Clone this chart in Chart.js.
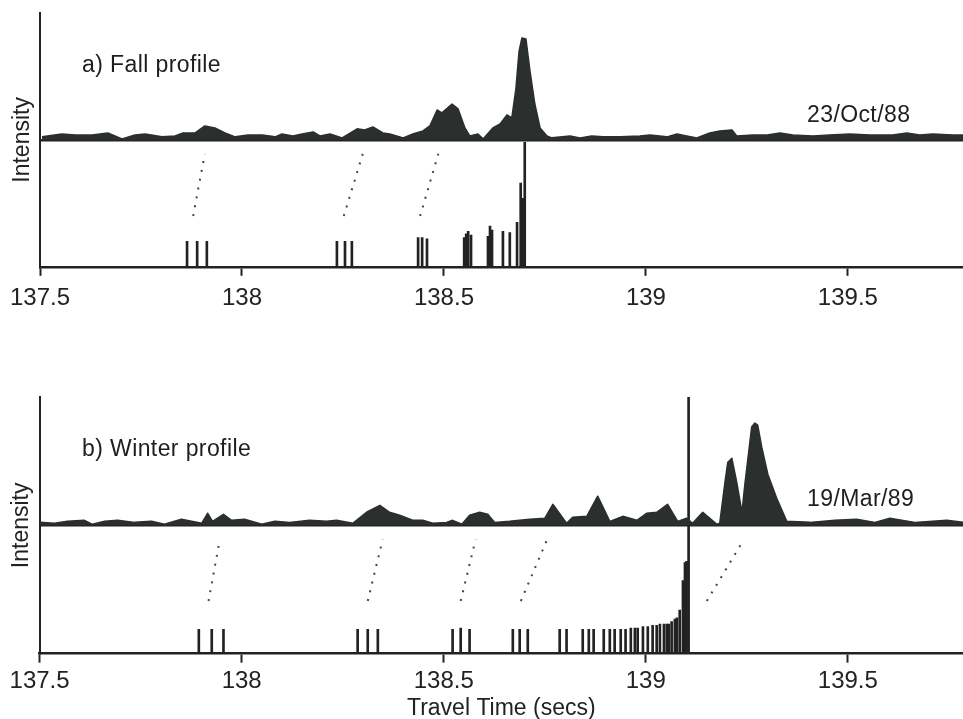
<!DOCTYPE html>
<html>
<head>
<meta charset="utf-8">
<script src="https://cdn.jsdelivr.net/npm/chart.js@4.4.1/dist/chart.umd.min.js"></script>
<style>
  html, body { margin: 0; padding: 0; background: #fff; }
  body { width: 963px; height: 719px; position: relative; overflow: hidden; font-family: "Liberation Sans", Arial, sans-serif; color: #1e1e1e; }
  .panel { position: absolute; left: 0; width: 963px; }
  .note { position: absolute; font-size: 23px; line-height: 23px; letter-spacing: 0.4px; white-space: nowrap; }
</style>
</head>
<body>
<div class="panel" style="top:0; height:325px;"><canvas id="fallChart"></canvas></div>
<div class="panel" style="top:360px; height:364px;"><canvas id="winterChart"></canvas></div>
<div class="note" style="left:82px; top:53px;">a) Fall profile</div>
<div class="note" style="left:807px; top:103px;">23/Oct/88</div>
<div class="note" style="left:82px; top:437px;">b) Winter profile</div>
<div class="note" style="left:807px; top:487px;">19/Mar/89</div>
<script>
// travel time axis
const xMin = 137.5, xMax = 139.785;
const xTicks = [137.5, 138, 138.5, 139, 139.5];

// --- a) Fall profile, 23/Oct/88 ---
const fallProfileTime = [137.505, 137.554, 137.587, 137.629, 137.668, 137.703, 137.735, 137.760, 137.802, 137.834,
  137.854, 137.884, 137.908, 137.933, 137.958, 137.983, 138.015, 138.050, 138.082, 138.099,
  138.126, 138.149, 138.176, 138.193, 138.218, 138.248, 138.285, 138.304, 138.324, 138.349,
  138.366, 138.399, 138.423, 138.448, 138.465, 138.483, 138.495, 138.520, 138.535, 138.552,
  138.564, 138.584, 138.597, 138.621, 138.639, 138.656, 138.668, 138.678, 138.686, 138.693,
  138.703, 138.713, 138.725, 138.738, 138.755, 138.767, 138.812, 138.837, 138.866, 138.894,
  138.936, 138.985, 139.010, 139.052, 139.077, 139.101, 139.126, 139.158, 139.183, 139.213,
  139.225, 139.265, 139.300, 139.332, 139.364, 139.413, 139.455, 139.505, 139.554, 139.611,
  139.646, 139.678, 139.710, 139.760, 139.785];
const fallProfileIntensity = [0.024, 0.047, 0.039, 0.039, 0.055, 0.008, 0.039, 0.047, 0.024, 0.031,
  0.055, 0.055, 0.110, 0.094, 0.055, 0.024, 0.039, 0.039, 0.024, 0.047,
  0.031, 0.047, 0.063, 0.031, 0.047, 0.016, 0.087, 0.079, 0.102, 0.055,
  0.047, 0.016, 0.047, 0.071, 0.110, 0.236, 0.213, 0.283, 0.244, 0.094,
  0.031, 0.047, 0.008, 0.094, 0.126, 0.197, 0.173, 0.400, 0.700, 0.803,
  0.795, 0.543, 0.283, 0.094, 0.031, 0.016, 0.031, 0.016, 0.031, 0.024,
  0.024, 0.031, 0.039, 0.024, 0.047, 0.031, 0.016, 0.055, 0.071, 0.079,
  0.031, 0.039, 0.039, 0.055, 0.039, 0.031, 0.039, 0.047, 0.039, 0.039,
  0.055, 0.039, 0.047, 0.039, 0.039];
const fallRayTime = [137.864, 137.889, 137.913, 138.235, 138.255, 138.272, 138.436, 138.446, 138.458, 138.550,
  138.555, 138.560, 138.567, 138.609, 138.614, 138.619, 138.646, 138.663, 138.681, 138.690, 138.695, 138.700];
const fallRayHeight = [0.20, 0.20, 0.20, 0.20, 0.20, 0.20, 0.23, 0.23, 0.22, 0.23,
  0.26, 0.28, 0.25, 0.24, 0.32, 0.29, 0.28, 0.27, 0.35, 0.66, 0.54, 0.98];
const fallLinkFrom = [137.879, 138.252, 138.441];
const fallLinkTo = [137.908, 138.299, 138.486];
const fallLinkLow = [0.40, 0.40, 0.40];
const fallLinkHigh = [0.89, 0.89, 0.89];

// --- b) Winter profile, 19/Mar/89 ---
const winterProfileTime = [137.500, 137.537, 137.569, 137.611, 137.631, 137.661, 137.693, 137.735, 137.777, 137.809,
  137.851, 137.876, 137.901, 137.916, 137.928, 137.955, 137.975, 138.007, 138.050, 138.082,
  138.119, 138.168, 138.210, 138.235, 138.275, 138.309, 138.342, 138.366, 138.391, 138.423,
  138.448, 138.473, 138.507, 138.522, 138.545, 138.564, 138.589, 138.609, 138.626, 138.663,
  138.713, 138.750, 138.770, 138.804, 138.819, 138.854, 138.881, 138.911, 138.943, 138.978,
  139.002, 139.027, 139.054, 139.079, 139.101, 139.116, 139.141, 139.176, 139.183, 139.196,
  139.203, 139.213, 139.225, 139.238, 139.245, 139.262, 139.270, 139.277, 139.287, 139.302,
  139.324, 139.349, 139.406, 139.468, 139.522, 139.567, 139.604, 139.666, 139.745, 139.785];
const winterProfileIntensity = [0.023, 0.016, 0.031, 0.039, 0.008, 0.031, 0.039, 0.023, 0.031, 0.008,
  0.047, 0.031, 0.016, 0.094, 0.031, 0.086, 0.039, 0.047, 0.008, 0.031,
  0.023, 0.039, 0.031, 0.039, 0.016, 0.102, 0.156, 0.102, 0.078, 0.039,
  0.039, 0.016, 0.023, 0.039, 0.008, 0.078, 0.102, 0.086, 0.023, 0.031,
  0.047, 0.055, 0.164, 0.016, 0.063, 0.070, 0.227, 0.031, 0.070, 0.039,
  0.094, 0.102, 0.164, 0.031, 0.055, 0.016, 0.102, 0.008, 0.016, 0.336,
  0.492, 0.523, 0.336, 0.102, 0.313, 0.766, 0.797, 0.781, 0.609, 0.398,
  0.211, 0.031, 0.023, 0.039, 0.047, 0.023, 0.055, 0.023, 0.039, 0.023];
const winterRayTime = [137.894, 137.926, 137.955, 138.287, 138.312, 138.337, 138.522, 138.542, 138.564, 138.671,
  138.688, 138.708, 138.787, 138.804, 138.844, 138.859, 138.871, 138.896, 138.911, 138.923,
  138.938, 138.950, 138.963, 138.973, 138.980, 138.993, 139.005, 139.017, 139.027, 139.035,
  139.045, 139.052, 139.057, 139.064, 139.072, 139.077, 139.084, 139.092, 139.097, 139.101, 139.106];
const winterRayHeight = [0.19, 0.19, 0.19, 0.19, 0.19, 0.19, 0.19, 0.20, 0.19, 0.19,
  0.19, 0.19, 0.19, 0.19, 0.19, 0.19, 0.19, 0.19, 0.19, 0.19,
  0.19, 0.19, 0.20, 0.20, 0.20, 0.21, 0.21, 0.22, 0.22, 0.23,
  0.23, 0.23, 0.23, 0.25, 0.27, 0.28, 0.34, 0.57, 0.71, 0.72, 2.0];
const winterLinkFrom = [137.918, 138.312, 138.542, 138.691, 139.151];
const winterLinkTo = [137.946, 138.349, 138.579, 138.760, 139.243];
const winterLinkLow = [0.41, 0.41, 0.41, 0.41, 0.41];
const winterLinkHigh = [0.89, 0.89, 0.89, 0.92, 0.89];

const ink = '#222';
const fillInk = '#2b2f2d';
const fontFamily = '"Liberation Sans", Arial, sans-serif';

function buildChart(canvasId, opts) {
  const datasets = [];
  // profile sits on top of the baseline at y = 1
  datasets.push({
    type: 'line',
    data: opts.profileTime.map((t, i) => ({ x: t, y: 1 + opts.profileIntensity[i] })),
    borderColor: fillInk, backgroundColor: fillInk, borderWidth: 1.5, borderJoinStyle: 'round',
    fill: { value: 1 }, pointRadius: 0, tension: 0
  });
  // ray arrivals as sticks
  datasets.push({
    type: 'bar',
    data: opts.rayTime.map((t, i) => ({ x: t, y: opts.rayHeight[i] })),
    backgroundColor: ink, borderWidth: 0, barThickness: 2, grouped: false
  });
  // dotted links between rays and profile peaks
  opts.linkFrom.forEach((x0, i) => {
    datasets.push({
      type: 'line',
      data: [{ x: x0, y: opts.linkLow[i] }, { x: opts.linkTo[i], y: opts.linkHigh[i] }],
      borderColor: '#444', borderWidth: 2, borderDash: [2, 7], pointRadius: 0, fill: false
    });
  });

  const xTitle = opts.xTitle
    ? { display: true, text: opts.xTitle, color: ink, font: { family: fontFamily, size: 23, lineHeight: 1.05 }, padding: { top: -3, bottom: 0 } }
    : { display: false };

  return new Chart(document.getElementById(canvasId), {
    type: 'line',
    data: { datasets: datasets },
    options: {
      responsive: true, maintainAspectRatio: false, animation: false,
      layout: { padding: opts.padding },
      plugins: { legend: { display: false }, tooltip: { enabled: false } },
      scales: {
        x: {
          type: 'linear', min: xMin, max: xMax, offset: false,
          afterBuildTicks: axis => { axis.ticks = xTicks.map(v => ({ value: v })); },
          ticks: { callback: v => String(v), color: ink, padding: opts.tickPad, maxRotation: 0, autoSkip: false,
                   font: { family: fontFamily, size: 24, lineHeight: 1.05 } },
          grid: { offset: false, drawOnChartArea: false, drawTicks: true, tickLength: 9, tickWidth: 2, tickColor: ink },
          border: { display: true, color: ink, width: 2.5 },
          title: xTitle
        },
        y: {
          type: 'linear', min: 0, max: 2,
          afterBuildTicks: axis => { axis.ticks = [{ value: 1 }]; },
          ticks: { display: false },
          grid: { drawTicks: false, color: ink, lineWidth: 2.5 },
          border: { display: true, color: ink, width: 2 },
          title: { display: true, text: 'Intensity', color: ink, font: { family: fontFamily, size: 23 }, padding: { top: 4, bottom: 4 } }
        }
      }
    }
  });
}

buildChart('fallChart', {
  profileTime: fallProfileTime, profileIntensity: fallProfileIntensity,
  rayTime: fallRayTime, rayHeight: fallRayHeight,
  linkFrom: fallLinkFrom, linkTo: fallLinkTo, linkLow: fallLinkLow, linkHigh: fallLinkHigh,
  tickPad: 10,
  padding: { top: 13, left: 4, right: 0, bottom: 4 }
});
buildChart('winterChart', {
  profileTime: winterProfileTime, profileIntensity: winterProfileIntensity,
  rayTime: winterRayTime, rayHeight: winterRayHeight,
  linkFrom: winterLinkFrom, linkTo: winterLinkTo, linkLow: winterLinkLow, linkHigh: winterLinkHigh,
  xTitle: 'Travel Time (secs)',
  tickPad: 6,
  padding: { top: 37, left: 4, right: 0, bottom: 3 }
});
</script>
</body>
</html>
